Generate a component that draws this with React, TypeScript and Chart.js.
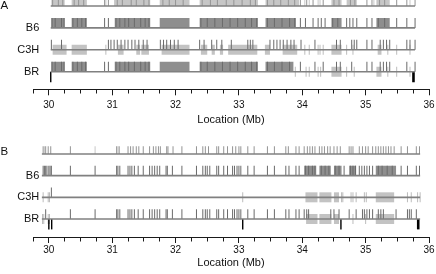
import React, { useEffect, useRef } from "react";
import { Chart, registerables } from "chart.js";

Chart.register(...registerables);

type Range = [number, number];

const FONT = '"Liberation Sans", Arial, Helvetica, sans-serif';
Chart.defaults.font.family = FONT;

// ---------- axis / labels ----------
const X_MIN = 29.75;
const X_MAX = 36;
const MINOR_STEP = 0.25;
const AXIS_TITLE = "Location (Mb)";
const ROW_LABELS = ["BR", "C3H", "B6", ""]; // row value = index + 1 (top row unlabeled)

// ---------- Panel A ----------
const A_EXTENT: Range = [30.03, 35.78];
const A_TOP_BLOCKS: Range[] = [[30.04, 30.25], [30.36, 30.6], [31.03, 31.6], [31.75, 32.22], [32.38, 33.3], [33.42, 33.95], [34.46, 34.62], [34.7, 34.86], [35.17, 35.38]];
const A_TOP_DARK = [30.06, 30.15, 30.22, 30.4, 30.47, 30.55, 30.88, 30.94, 31.08, 31.16, 31.3, 31.38, 31.5, 31.58, 31.8, 31.9, 32.0, 32.12, 32.42, 32.55, 32.66, 32.8, 32.92, 33.05, 33.18, 33.26, 33.45, 33.55, 33.66, 33.78, 33.88, 33.97, 34.07, 34.17, 34.33, 34.5, 34.58, 34.76, 34.83, 35.02, 35.1, 35.22, 35.3, 35.49, 35.65, 35.78];
const A_TOP_LIGHT = [30.9, 34.04, 34.11, 34.25, 34.28, 35.13, 35.7];

const A_B6_BLOCKS: Range[] = [[30.04, 30.25], [30.36, 30.6], [31.04, 31.6], [31.75, 32.22], [32.38, 33.3], [33.42, 33.9], [34.46, 34.62], [35.17, 35.38]];
const A_B6_DARK = [30.05, 30.1, 30.2, 30.24, 30.38, 30.45, 30.52, 30.58, 30.88, 30.94, 31.06, 31.12, 31.2, 31.26, 31.35, 31.45, 31.52, 31.58, 32.4, 32.5, 32.62, 32.74, 32.86, 32.98, 33.1, 33.2, 33.28, 33.45, 33.56, 33.68, 33.8, 33.88, 33.97, 34.05, 34.17, 34.25, 34.3, 34.36, 34.48, 34.56, 34.7, 34.75, 34.8, 34.86, 35.02, 35.1, 35.2, 35.3, 35.49, 35.65, 35.78];

const A_C3H_DARK = [30.04, 30.2, 30.94, 30.98, 31.03, 31.08, 31.14, 31.2, 31.25, 31.31, 31.36, 31.42, 31.49, 31.55, 31.76, 31.81, 31.86, 31.92, 31.98, 32.04, 32.38, 32.45, 32.57, 32.65, 32.73, 32.88, 33.14, 33.18, 33.22, 33.49, 33.55, 33.6, 33.65, 33.7, 33.76, 33.82, 33.87, 33.98, 34.2, 34.54, 34.6, 34.78, 34.82, 34.86, 35.02, 35.1, 35.23, 35.28, 35.33, 35.38, 35.65, 35.7, 35.78];
const A_C3H_LIGHT = [30.9, 34.04, 34.11, 34.25, 34.28, 34.33, 34.7, 34.8, 35.35, 35.49, 35.7];
const A_C3H_LIGHT_BLOCKS: Range[] = [[30.06, 30.28], [30.36, 30.6], [31.09, 31.18], [31.38, 31.44], [31.46, 31.58], [31.78, 32.22], [32.4, 32.5], [32.57, 32.62], [32.7, 32.75], [32.83, 33.29], [33.41, 33.49], [33.69, 33.92], [34.46, 34.62], [35.19, 35.25]];

const A_BR_BLOCKS: Range[] = [[30.04, 30.25], [30.36, 30.6], [31.04, 31.6], [31.75, 32.22], [32.38, 33.3], [33.42, 33.86]];
const A_BR_DARK = [30.05, 30.1, 30.2, 30.24, 30.38, 30.45, 30.52, 30.58, 30.88, 30.94, 31.06, 31.12, 31.2, 31.26, 31.35, 31.45, 31.52, 31.58, 32.4, 32.5, 32.62, 32.74, 32.86, 32.98, 33.1, 33.2, 33.28, 33.45, 33.56, 33.68, 33.8, 33.97, 34.2, 34.33, 34.54, 34.6, 34.78, 35.02, 35.1, 35.23, 35.28, 35.33, 35.38, 35.65, 35.78];
const A_BR_LIGHT = [33.89, 34.06, 34.11, 34.25, 34.29, 34.7, 34.82, 35.35, 35.49, 35.7];
const A_BR_LIGHT_BLOCKS: Range[] = [[34.46, 34.62], [35.17, 35.25]];
const A_MARKERS = [30.03];
const A_MARKERS_THICK = [35.755];

// ---------- Panel B ----------
const B_EXTENT: Range = [29.89, 35.86];
const B_TOP_DARK = [29.91, 29.95, 29.99, 30.03, 30.34, 31.07, 31.11, 31.25, 31.29, 31.33, 31.38, 31.42, 31.49, 31.59, 31.65, 31.69, 31.73, 31.76, 31.86, 31.88, 31.96, 32.1, 32.33, 32.43, 32.47, 32.52, 32.65, 32.68, 32.76, 32.82, 32.9, 32.95, 33.0, 33.03, 33.14, 33.24, 33.45, 33.56, 33.74, 33.78, 33.9, 33.95, 34.03, 34.08, 34.12, 34.16, 34.2, 34.27, 34.31, 34.35, 34.4, 34.44, 34.5, 34.55, 34.6, 34.74, 34.77, 34.8, 34.9, 34.95, 35.0, 35.04, 35.11, 35.16, 35.2, 35.24, 35.28, 35.32, 35.36, 35.4, 35.45, 35.56, 35.66, 35.8, 35.85];
const B_TOP_LIGHT = [29.93, 30.73, 31.09];

const B_B6_DARK = [29.91, 29.93, 29.95, 29.97, 30.0, 30.02, 30.04, 30.34, 30.73, 31.07, 31.09, 31.12, 31.25, 31.28, 31.31, 31.35, 31.41, 31.49, 31.59, 31.63, 31.67, 31.71, 31.75, 31.85, 31.87, 31.95, 32.1, 32.33, 32.43, 32.47, 32.5, 32.54, 32.65, 32.68, 32.76, 32.82, 32.9, 32.93, 32.97, 33.0, 33.03, 33.14, 33.24, 33.45, 33.56, 33.74, 33.79, 33.9, 33.95, 34.05, 34.1, 34.16, 34.2, 34.3, 34.36, 34.42, 34.52, 34.58, 34.66, 34.76, 34.8, 34.84, 34.9, 34.94, 34.98, 35.02, 35.06, 35.11, 35.2, 35.26, 35.34, 35.42, 35.56, 35.66, 35.8, 35.85];
const B_B6_BLOCKS: Range[] = [[34.03, 34.22], [34.27, 34.45], [34.5, 34.62], [34.74, 34.85], [35.16, 35.48]];

const B_C3H_DARK = [30.04];
const B_C3H_LIGHT = [29.91, 29.99, 30.01, 33.06, 34.62, 34.64, 34.77, 34.8, 34.85, 34.98, 35.01, 35.66, 35.72, 35.82, 35.86];
const B_C3H_LIGHT_BLOCKS: Range[] = [[34.05, 34.24], [34.27, 34.46], [34.5, 34.58], [35.16, 35.45]];

const B_BR_DARK = [29.95, 30.34, 30.73, 31.07, 31.09, 31.12, 31.25, 31.28, 31.31, 31.35, 31.41, 31.49, 31.59, 31.63, 31.67, 31.71, 31.75, 31.85, 31.87, 31.95, 32.1, 32.33, 32.43, 32.47, 32.5, 32.54, 32.65, 32.68, 32.76, 32.82, 32.9, 32.93, 32.97, 33.0, 33.03, 33.14, 33.24, 33.45, 33.56, 33.74, 33.79, 33.9, 33.95, 34.03, 34.07, 34.1, 34.45, 34.5, 34.58, 34.74, 34.85, 34.95, 34.98, 35.02, 35.06, 35.11, 35.2, 35.24, 35.28, 35.48, 35.66, 35.69, 35.72, 35.8];
const B_BR_LIGHT = [29.9, 29.92, 29.99, 30.01, 34.8, 35.0];
const B_BR_LIGHT_BLOCKS: Range[] = [[34.06, 34.24], [34.27, 34.46], [34.5, 34.58], [35.16, 35.45]];
const B_MARKERS = [30.0, 30.045, 33.06, 34.61];
const B_MARKERS_THICK = [35.83];

// ---------- styles ----------
const C = {
  line: "#808080",
  dark: "#6a6a6a",
  darkBlock: "#8e8e8e",
  light: "#bcbcbc",
  lightBlock: "#c3c3c3",
  topDark: "#949494",
  topLight: "#c8c8c8",
  topBlock: "#c6c6c6",
  marker: "#000000",
  axis: "#1a1a1a",
  text: "#111111",
};
const UP = 0.455; // dark tick height above the row line (row units)
const HALF = 0.23; // half height of straddling light ticks
const TOP_UP = 0.36; // top row tick height
const MARK_DOWN = 0.48; // marker length below BR line
const TICK_PX = 10;
const TOP_PX = 8;
const MAJOR_TICK = 6;
const MINOR_TICK = 3.5;

interface RowSpec {
  y: number;
  top?: boolean;
  dark?: number[];
  light?: number[];
  darkBlocks?: Range[];
  lightBlocks?: Range[];
}

function buildDatasets(rows: RowSpec[], extent: Range, markers: number[], thickMarkers: number[]) {
  const common = { grouped: false, xAxisID: "x", yAxisID: "y", borderWidth: 0, inflateAmount: 0 };
  const ds: any[] = [];
  ds.push({ ...common, indexAxis: "y", order: 0, barThickness: 1.6, backgroundColor: C.line, data: rows.map((r) => ({ x: extent, y: r.y })) });
  ds.push({ ...common, order: 0, barThickness: 1.4, backgroundColor: C.marker, data: markers.map((x) => ({ x, y: [1 - MARK_DOWN, 1] })) });
  ds.push({ ...common, order: 0, barThickness: 2.6, backgroundColor: C.marker, data: thickMarkers.map((x) => ({ x, y: [1 - MARK_DOWN, 1] })) });
  for (const r of rows) {
    const up = r.top ? TOP_UP : UP;
    if (r.dark) ds.push({ ...common, order: 1, barThickness: 1, backgroundColor: r.top ? C.topDark : C.dark, data: r.dark.map((x) => ({ x, y: [r.y, r.y + up] })) });
    if (r.light) ds.push({ ...common, order: 2, barThickness: 1, backgroundColor: r.top ? C.topLight : C.light, data: r.light.map((x) => ({ x, y: r.top ? [r.y, r.y + up] : [r.y - HALF, r.y + HALF] })) });
    if (r.darkBlocks) ds.push({ ...common, indexAxis: "y", order: 3, barThickness: r.top ? TOP_PX : TICK_PX, backgroundColor: r.top ? C.topBlock : C.darkBlock, data: r.darkBlocks.map((b) => ({ x: b, y: r.y + up / 2 })) });
    if (r.lightBlocks) ds.push({ ...common, indexAxis: "y", order: 4, barThickness: TICK_PX, backgroundColor: C.lightBlock, data: r.lightBlocks.map((b) => ({ x: b, y: r.y })) });
  }
  return ds;
}

interface PanelSpec {
  top: number;
  letter: string;
  letterY: number;
  yMin: number;
  yMax: number;
  axisHeight: number;
  labelPad: number;
  titlePadBottom: number;
  datasets: any[];
}

const PANEL_A: PanelSpec = {
  top: 0,
  letter: "A",
  letterY: 5.5,
  yMin: 0.196,
  yMax: 4.274,
  axisHeight: 47.7,
  labelPad: 4,
  titlePadBottom: 10.4,
  datasets: buildDatasets(
    [
      { y: 4, top: true, dark: A_TOP_DARK, light: A_TOP_LIGHT, darkBlocks: A_TOP_BLOCKS },
      { y: 3, dark: A_B6_DARK, darkBlocks: A_B6_BLOCKS },
      { y: 2, dark: A_C3H_DARK, light: A_C3H_LIGHT, lightBlocks: A_C3H_LIGHT_BLOCKS },
      { y: 1, dark: A_BR_DARK, light: A_BR_LIGHT, darkBlocks: A_BR_BLOCKS, lightBlocks: A_BR_LIGHT_BLOCKS },
    ],
    A_EXTENT,
    A_MARKERS,
    A_MARKERS_THICK
  ),
};

const PANEL_B: PanelSpec = {
  top: 137,
  letter: "B",
  letterY: 15,
  yMin: 0.169,
  yMax: 4.784,
  axisHeight: 37,
  labelPad: 1.5,
  titlePadBottom: 4.7,
  datasets: buildDatasets(
    [
      { y: 4, top: true, dark: B_TOP_DARK, light: B_TOP_LIGHT },
      { y: 3, dark: B_B6_DARK, darkBlocks: B_B6_BLOCKS },
      { y: 2, dark: B_C3H_DARK, light: B_C3H_LIGHT, lightBlocks: B_C3H_LIGHT_BLOCKS },
      { y: 1, dark: B_BR_DARK, light: B_BR_LIGHT, lightBlocks: B_BR_LIGHT_BLOCKS },
    ],
    B_EXTENT,
    B_MARKERS,
    B_MARKERS_THICK
  ),
};

const isMajor = (v: number) => Math.abs(v - Math.round(v)) < 1e-9;

function Panel({ spec }: { spec: PanelSpec }) {
  const ref = useRef<HTMLCanvasElement>(null);
  useEffect(() => {
    const letterPlugin = {
      id: "panelLetter",
      afterDraw(chart: any) {
        const ctx = chart.ctx;
        ctx.save();
        ctx.font = `11.5px ${FONT}`;
        ctx.fillStyle = C.text;
        ctx.textAlign = "left";
        ctx.textBaseline = "middle";
        ctx.fillText(spec.letter, 0.5, spec.letterY);
        ctx.restore();
      },
    };
    const chart = new Chart(ref.current as HTMLCanvasElement, {
      type: "bar",
      data: { datasets: spec.datasets },
      options: {
        animation: false,
        responsive: false,
        events: [],
        layout: { padding: { left: 33, right: 7, top: 0, bottom: 0 } },
        plugins: { legend: { display: false }, tooltip: { enabled: false }, title: { display: false } },
        scales: {
          x: {
            type: "linear",
            position: "bottom",
            min: X_MIN,
            max: X_MAX,
            offset: false,
            beginAtZero: false,
            ticks: {
              stepSize: MINOR_STEP,
              autoSkip: false,
              maxRotation: 0,
              minRotation: 0,
              padding: spec.labelPad,
              color: C.text,
              font: { size: 10, family: FONT },
              callback: (v: any) => (isMajor(Number(v)) ? String(Math.round(Number(v))) : ""),
            },
            grid: {
              offset: false,
              drawOnChartArea: false,
              drawTicks: true,
              tickLength: MAJOR_TICK,
              tickColor: C.axis,
              tickWidth: 1,
              tickBorderDash: (ctx: any) => (ctx.tick && isMajor(ctx.tick.value) ? [] : [MINOR_TICK, 20]),
            },
            border: { display: true, color: C.axis, width: 1 },
            title: {
              display: true,
              text: AXIS_TITLE,
              color: C.text,
              font: { size: 11, family: FONT },
              padding: { top: 0, bottom: spec.titlePadBottom },
            },
            afterFit: (s: any) => {
              s.height = spec.axisHeight;
              s.paddingLeft = 0;
              s.paddingRight = 0;
            },
          },
          y: {
            type: "linear",
            position: "left",
            min: spec.yMin,
            max: spec.yMax,
            offset: false,
            beginAtZero: false,
            afterBuildTicks: (s: any) => {
              s.ticks = [1, 2, 3].map((value) => ({ value }));
            },
            ticks: {
              mirror: true,
              crossAlign: "far",
              padding: -15.7,
              autoSkip: false,
              color: C.text,
              font: { size: 11, family: FONT },
              callback: (v: any) => ROW_LABELS[Math.round(Number(v)) - 1],
            },
            grid: { display: false, drawTicks: false, offset: false },
            border: { display: false },
            afterFit: (s: any) => {
              s.width = 0;
              s.paddingTop = 0;
              s.paddingBottom = 0;
            },
          },
        },
      } as any,
      plugins: [letterPlugin],
    });
    return () => chart.destroy();
  }, [spec]);
  return (
    <canvas
      ref={ref}
      width={436}
      height={137}
      style={{ position: "absolute", left: 0, top: spec.top, width: 436, height: 137, display: "block" }}
    />
  );
}

export default function App() {
  return (
    <div style={{ position: "fixed", left: 0, top: 0, width: 436, height: 274, background: "#ffffff", overflow: "hidden" }}>
      <Panel spec={PANEL_A} />
      <Panel spec={PANEL_B} />
    </div>
  );
}
